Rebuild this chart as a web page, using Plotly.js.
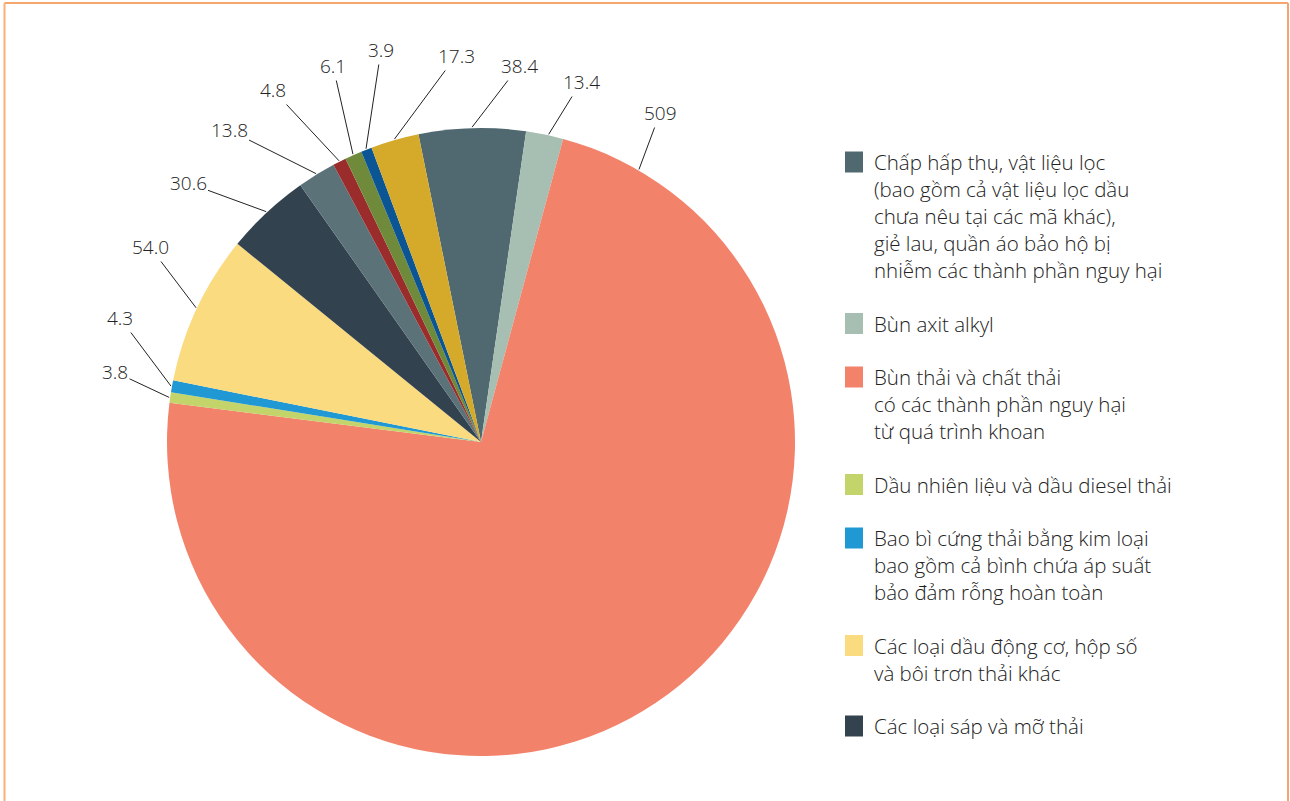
<!DOCTYPE html>
<html><head><meta charset="utf-8">
<script src="https://cdn.plot.ly/plotly-3.0.1.min.js"></script>
<style>html,body{margin:0;padding:0;background:#fff}</style>
</head><body><div id="chart" style="width:1290px;height:801px"></div>
<script>
// ---- data ----
const sliceValues = [38.4, 13.4, 509, 3.8, 4.3, 54.0, 30.6, 13.8, 4.8, 6.1, 3.9, 17.3];
const sliceLabels = ['38.4', '13.4', '509', '3.8', '4.3', '54.0', '30.6', '13.8', '4.8', '6.1', '3.9', '17.3'];
const sliceColors = ['#506870', '#a6bfb2', '#f3826b', '#c3d46a', '#1f98d3', '#fadb80', '#33424f',
                     '#5b7278', '#9b2c2c', '#708a3b', '#0b5595', '#d5aa2a'];
const legendEntries = [
  ['Chấp hấp thụ, vật liệu lọc', '(bao gồm cả vật liệu lọc dầu', 'chưa nêu tại các mã khác),', 'giẻ lau, quần áo bảo hộ bị', 'nhiễm các thành phần nguy hại'],
  ['Bùn axit alkyl'],
  ['Bùn thải và chất thải', 'có các thành phần nguy hại', 'từ quá trình khoan'],
  ['Dầu nhiên liệu và dầu diesel thải'],
  ['Bao bì cứng thải bằng kim loại', 'bao gồm cả bình chứa áp suất', 'bảo đảm rỗng hoàn toàn'],
  ['Các loại dầu động cơ, hộp số', 'và bôi trơn thải khác'],
  ['Các loại sáp và mỡ thải']
];
const legendColors = ['#506870', '#a6bfb2', '#f3826b', '#c3d46a', '#1f98d3', '#fadb80', '#33424f'];

// ---- layout / style ----
const W = 1290, H = 801;
const CX = 481, CY = 442, R = 314;
const ROTATION = -11.5;
// label text centre positions (px) and where along each slice the leader line touches (0..1)
const labelPos = [[519,66],[581,82],[660,113],[115,372],[120,318],[150,247],[188,183],[229,130],[273,90],[333,66],[381,50],[456,56]];
const tipFraction = [0.5, 0.6, 0.057, 0.5, 0.5, 0.5, 0.5, 0.5, 0.5, 0.5, 0.5, 0.5];
const textColor = '#222222';
const FONT = 'Open Sans, Noto Sans, sans-serif';

const trace = {
  type: 'pie',
  values: sliceValues,
  labels: sliceLabels,
  sort: false,
  direction: 'clockwise',
  rotation: ROTATION,
  textinfo: 'none',
  hoverinfo: 'skip',
  marker: {colors: sliceColors, line: {width: 0}},
  domain: {x: [(CX - R) / W, (CX + R) / W], y: [1 - (CY + R) / H, 1 - (CY - R) / H]},
  showlegend: false
};

const annotations = [];
const total = sliceValues.reduce((a, b) => a + b, 0);
let acc = 0;
sliceValues.forEach((v, i) => {
  const ang = (ROTATION + (acc + v * tipFraction[i]) / total * 360) * Math.PI / 180;
  acc += v;
  const tx = CX + (R + 1) * Math.sin(ang);
  const ty = CY - (R + 1) * Math.cos(ang);
  annotations.push({
    xref: 'paper', yref: 'paper', x: tx / W, y: 1 - ty / H,
    text: sliceLabels[i], showarrow: true, arrowhead: 0, arrowwidth: 1, arrowcolor: '#222',
    standoff: 0, ax: labelPos[i][0] - tx, ay: labelPos[i][1] - ty,
    font: {family: FONT, size: 19, color: textColor, weight: 300}
  });
});

const shapes = [];
let lineCount = 0;
legendEntries.forEach((lines, k) => {
  const y0 = 162 + 27 * lineCount + 26.5 * k;
  shapes.push({type: 'rect', xref: 'paper', yref: 'paper', x0: 845 / W, x1: 863 / W,
               y0: 1 - (y0 - 10.5) / H, y1: 1 - (y0 + 10.5) / H,
               fillcolor: legendColors[k], line: {width: 0}});
  lines.forEach((t, j) => {
    annotations.push({xref: 'paper', yref: 'paper', x: 872 / W, y: 1 - (y0 + 27 * j) / H,
      xanchor: 'left', yanchor: 'middle', showarrow: false, text: t, align: 'left',
      font: {family: FONT, size: 20.5, color: textColor, weight: 300}});
  });
  lineCount += lines.length;
});

// frame
const frameColor = '#f4a66c';
shapes.push({type: 'line', xref: 'paper', yref: 'paper', x0: 4.5 / W, x1: 1288 / W, y0: 1 - 3 / H, y1: 1 - 3 / H, line: {color: frameColor, width: 2}});
shapes.push({type: 'line', xref: 'paper', yref: 'paper', x0: 4.5 / W, x1: 4.5 / W, y0: 1 - 3 / H, y1: 0, line: {color: '#fbb07a', width: 2}});
shapes.push({type: 'line', xref: 'paper', yref: 'paper', x0: 1288 / W, x1: 1288 / W, y0: 1 - 3 / H, y1: 0, line: {color: frameColor, width: 2}});

const layout = {
  width: W, height: H,
  margin: {l: 0, r: 0, t: 0, b: 0},
  paper_bgcolor: '#fff',
  showlegend: false,
  annotations: annotations,
  shapes: shapes,
  font: {family: FONT}
};

Plotly.newPlot('chart', [trace], layout, {displayModeBar: false, staticPlot: true});
</script>
</body></html>
